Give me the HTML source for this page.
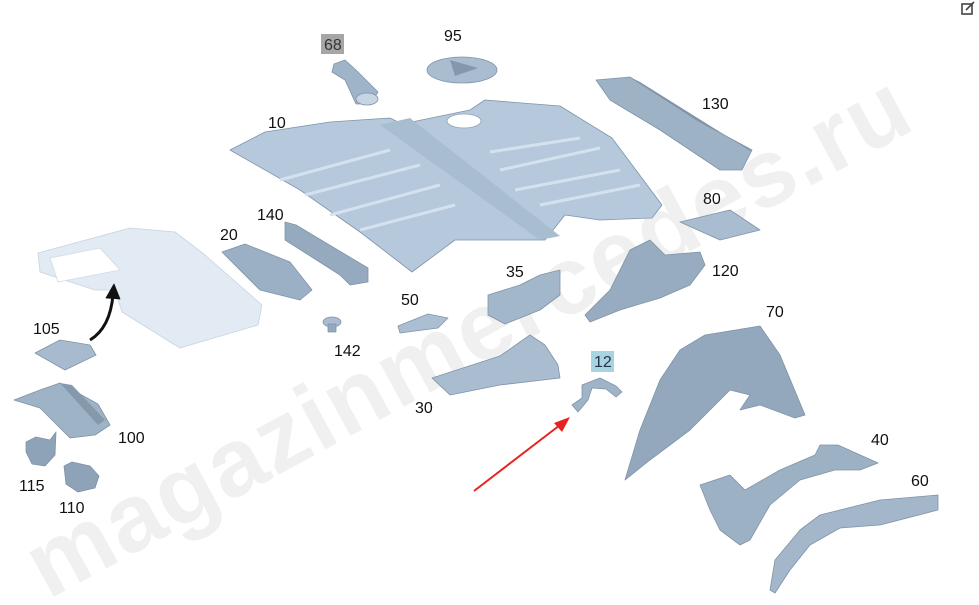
<!DOCTYPE html>
<html><head><meta charset="utf-8"><style>
html,body{margin:0;padding:0;background:#fff;width:979px;height:605px;overflow:hidden;}
svg{display:block;overflow:hidden;}
text{font-family:"Liberation Sans",sans-serif;font-size:16px;fill:#111;}
</style></head><body>
<svg width="979" height="605" viewBox="0 0 979 605" xmlns="http://www.w3.org/2000/svg">
<rect width="979" height="605" fill="#fff"/>
<text x="0" y="0" transform="translate(48,600) rotate(-28.5)" style="font-size:96px;font-weight:bold;fill:#f0f0f0;letter-spacing:2px">magazinmercedes.ru</text>

<g stroke="#7f93a8" stroke-width="0.8" stroke-linejoin="round">
<polygon points="230,150 265,132 330,122 390,118 402,124 470,110 485,100 560,106 612,138 662,205 652,218 600,220 565,215 545,240 455,240 412,272 360,232 300,190" fill="#b6c9dc"/>
<polygon points="380,125 540,240 560,236 410,118" fill="#a9bdd1" stroke="none"/>
<ellipse cx="464" cy="121" rx="17" ry="7" fill="#fff" stroke="#8ea2b6"/>
<g stroke="#d4e2ef" stroke-width="3" fill="none">
<line x1="280" y1="180" x2="390" y2="150"/><line x1="305" y1="195" x2="420" y2="165"/><line x1="330" y1="215" x2="440" y2="185"/><line x1="360" y1="230" x2="455" y2="205"/>
<line x1="500" y1="170" x2="600" y2="148"/><line x1="515" y1="190" x2="620" y2="170"/><line x1="540" y1="205" x2="640" y2="185"/><line x1="490" y1="152" x2="580" y2="138"/>
</g>
<polygon points="334,64 345,60 356,70 378,92 370,104 356,104 345,80 332,72" fill="#9fb4c8"/>
<ellipse cx="367" cy="99" rx="11" ry="6" fill="#c6d5e3"/>
<ellipse cx="462" cy="70" rx="35" ry="13" fill="#aabdd0"/>
<polygon points="450,60 478,68 455,76" fill="#8598ab" stroke="none"/>
<polygon points="596,80 630,77 700,122 752,150 742,170 720,170 660,130 610,100" fill="#9eb2c6"/>
<polygon points="630,77 700,122 748,148 752,152 640,82" fill="#7f94a9" stroke="none"/>
<polygon points="680,222 730,210 760,230 720,240" fill="#a9bcd0"/>
<polygon points="285,222 296,225 368,268 368,282 350,285 340,275 285,240" fill="#95aabe"/>
<polygon points="222,252 245,244 290,262 312,290 300,300 260,290" fill="#9bb0c4"/>
<polygon points="38,253 130,228 175,232 205,255 262,305 258,325 180,348 122,312 115,290 95,290 40,272" fill="#e2ebf4" stroke="#c6d3e0"/>
<polygon points="50,258 100,248 120,270 58,282" fill="#fff" stroke="#d0dbe6"/>
<path d="M90,340 Q110,328 113,295" fill="none" stroke="#111" stroke-width="3"/>
<polygon points="106,298 114,284 120,299" fill="#111" stroke="#111"/>
<polygon points="35,353 60,340 90,345 96,355 65,370" fill="#a8bbce"/>
<polygon points="14,400 40,390 60,383 98,404 110,425 95,435 70,438 40,408" fill="#9fb3c7"/>
<polygon points="60,383 72,385 105,420 98,425" fill="#8599ad" stroke="none"/>
<path d="M26,442 L36,437 50,440 56,432 55,455 45,466 32,464 26,452Z" fill="#8fa3b8"/>
<path d="M64,466 L72,462 90,466 99,476 95,488 78,492 66,484Z" fill="#8fa3b8"/>
<ellipse cx="332" cy="322" rx="9" ry="5" fill="#aabdd0"/>
<rect x="328" y="324" width="8" height="8" fill="#95a9bd"/>
<polygon points="398,326 428,314 448,318 438,328 400,333" fill="#acbfd2"/>
<polygon points="488,295 520,285 540,275 560,270 560,295 540,310 505,324 488,315" fill="#a3b7ca"/>
<polygon points="585,315 610,290 630,250 650,240 665,255 700,252 705,265 690,285 660,298 620,310 590,322" fill="#97acc0"/>
<polygon points="432,378 500,356 530,335 545,345 558,365 560,378 500,385 450,395" fill="#aabdd0"/>
<path d="M582,385 L600,378 616,386 622,392 616,397 606,389 592,388 588,400 578,412 572,405 582,398Z" fill="#a0b4c8"/>
<polygon points="625,480 640,430 660,380 680,350 705,335 760,326 780,355 805,415 795,418 760,405 740,410 750,395 730,390 710,410 690,430 650,460" fill="#93a8bc"/>
<polygon points="700,485 730,475 745,490 780,470 815,455 820,445 838,445 878,463 860,470 835,470 800,480 770,505 750,540 740,545 720,530 710,510" fill="#9db1c5"/>
<polygon points="770,590 775,560 800,530 820,515 860,505 880,500 938,495 938,510 880,525 840,528 810,545 790,570 775,593" fill="#a3b6ca"/>
</g>
<line x1="474" y1="491" x2="560" y2="425" stroke="#e8231f" stroke-width="2"/>
<polygon points="570,417 554,423 562,432" fill="#e8231f"/>

<rect x="321" y="34" width="23" height="20" fill="#a6a6a6"/>
<text x="324" y="50" style="fill:#333">68</text>
<text x="444" y="41">95</text>
<text x="268" y="128">10</text>
<text x="702" y="109">130</text>
<text x="257" y="220">140</text>
<text x="220" y="240">20</text>
<text x="703" y="204">80</text>
<text x="506" y="277">35</text>
<text x="712" y="276">120</text>
<text x="401" y="305">50</text>
<text x="33" y="334">105</text>
<text x="334" y="356">142</text>
<text x="766" y="317">70</text>
<rect x="591" y="351" width="23" height="21" fill="#a8d3e0"/>
<text x="594" y="367" style="fill:#234">12</text>
<text x="415" y="413">30</text>
<text x="118" y="443">100</text>
<text x="871" y="445">40</text>
<text x="19" y="491">115</text>
<text x="911" y="486">60</text>
<text x="59" y="513">110</text>
<g stroke="#444" stroke-width="1.6" fill="none"><rect x="962" y="4" width="10" height="10"/><line x1="966" y1="10" x2="974" y2="2"/></g>
</svg>
</body></html>
